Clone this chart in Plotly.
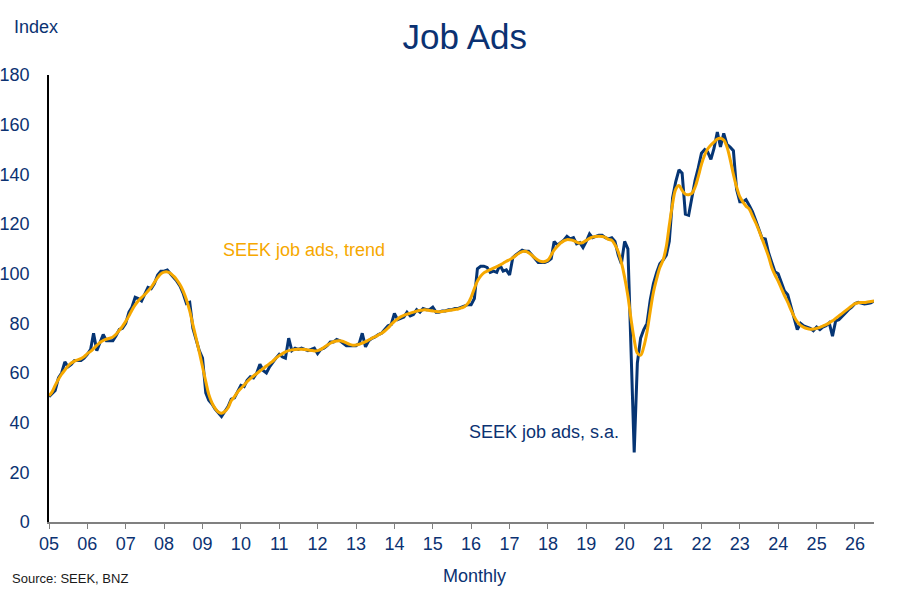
import pandas as pd
import plotly.graph_objects as go

# ---- data (monthly, Jan 2005 - Jul 2026) ----
start_month = "2005-01-01"

trend = [
    # 2005
    50.8, 52.5, 55.0, 57.5, 59.5, 61.2, 62.8, 64.0, 64.8, 65.3, 65.8, 66.6,
    # 2006
    67.8, 68.7, 69.8, 71.1, 72.3, 73.1, 73.6, 74.0, 74.5, 75.6, 77.2, 78.8,
    # 2007
    80.8, 83.0, 85.3, 87.4, 89.1, 90.4, 91.6, 93.0, 94.6, 96.5, 98.4, 99.9,
    # 2008
    100.6, 100.7, 100.2, 99.0, 97.5, 95.5, 93.0, 89.5, 85.0, 79.5, 74.0, 68.5,
    # 2009
    62.5, 56.5, 51.5, 48.0, 45.8, 44.3, 43.8, 44.5, 46.0, 48.8, 50.5, 52.3,
    # 2010
    53.8, 55.2, 56.5, 57.7, 58.8, 59.8, 60.8, 61.8, 62.8, 63.8, 64.8, 66.0,
    # 2011
    67.0, 67.8, 68.5, 69.0, 69.3, 69.5, 69.6, 69.6, 69.5, 69.3, 69.1, 68.9,
    # 2012
    69.0, 69.5, 70.3, 71.2, 72.0, 72.6, 72.9, 73.0, 72.7, 72.1, 71.5, 71.2,
    # 2013
    71.3, 71.6, 72.0, 72.6, 73.3, 74.0, 74.6, 75.3, 76.0, 76.9, 78.1, 79.5,
    # 2014
    80.8, 81.8, 82.6, 83.2, 83.7, 84.1, 84.5, 84.9, 85.2, 85.4, 85.4, 85.2,
    # 2015
    85.0, 84.8, 84.7, 84.8, 85.0, 85.2, 85.4, 85.6, 85.8, 86.2, 86.8, 88.0,
    # 2016
    90.5, 94.0, 97.0, 99.0, 100.3, 101.0, 101.6, 102.2, 102.8, 103.5, 104.2, 105.0,
    # 2017
    105.6, 106.4, 107.3, 108.2, 108.9, 109.0, 108.4, 107.4, 106.3, 105.4, 104.9, 104.9,
    # 2018
    105.5, 107.5, 109.5, 111.0, 112.3, 113.2, 113.7, 113.6, 113.3, 112.7, 112.3, 112.6,
    # 2019
    113.4, 114.2, 114.7, 115.0, 115.1, 115.0, 114.6, 113.8, 113.4, 111.6, 108.8, 104.5,
    # 2020
    98.5, 91.0, 82.0, 73.5, 68.0, 67.2, 70.5, 76.5, 85.0, 92.5, 98.0, 102.5,
    # 2021
    105.5, 111.0, 119.5, 128.0, 134.0, 135.5, 133.5, 132.0, 131.8, 132.3, 134.8, 139.0,
    # 2022
    144.0, 147.8, 150.2, 151.8, 153.0, 154.2, 154.5, 153.8, 151.0, 146.0, 140.0, 135.0,
    # 2023
    131.0, 128.8, 127.2, 126.0, 123.3, 120.5, 117.5, 114.0, 110.5, 107.0, 102.5, 99.5,
    # 2024
    97.0, 94.0, 91.2, 88.5, 85.5, 82.7, 80.6, 79.2, 78.4, 77.9, 77.6, 77.7,
    # 2025
    78.0, 78.4, 78.9, 79.5, 80.2, 81.0, 82.0, 83.0, 84.0, 85.0, 86.0, 87.0,
    # 2026
    87.9, 88.3, 88.4, 88.4, 88.6, 88.8, 89.0,
]

seasonally_adjusted = [
    # 2005
    50.5, 52.0, 53.0, 58.0, 60.0, 64.5, 62.5, 63.5, 65.0, 65.0, 65.0, 66.0,
    # 2006
    67.5, 69.5, 76.0, 69.0, 72.5, 75.5, 73.0, 73.0, 73.0, 75.0, 77.5, 78.0,
    # 2007
    80.0, 84.5, 86.5, 90.5, 90.0, 89.0, 91.5, 94.5, 94.0, 96.0, 99.5, 101.0,
    # 2008
    101.0, 101.5, 100.0, 98.5, 97.0, 95.0, 92.0, 88.0, 88.5, 78.0, 73.0, 69.0,
    # 2009
    66.0, 52.0, 49.0, 47.5, 45.5, 44.0, 42.5, 44.5, 46.5, 49.5, 50.0, 52.5,
    # 2010
    55.0, 54.5, 57.0, 58.5, 58.0, 60.0, 63.5, 61.0, 60.0, 62.5, 64.5, 66.0,
    # 2011
    67.5, 66.5, 66.0, 74.0, 69.0, 70.0, 69.5, 70.0, 69.5, 69.0, 69.5, 70.0,
    # 2012
    67.8, 69.5, 70.0, 71.0, 72.5, 72.5, 73.5, 73.0, 72.0, 71.0, 71.0, 71.0,
    # 2013
    71.0, 72.0, 76.0, 70.5, 73.0, 74.0, 74.5, 75.5, 76.0, 77.5, 79.0, 79.5,
    # 2014
    84.0, 81.5, 82.0, 82.5, 84.5, 83.0, 83.5, 85.5, 84.5, 86.0, 85.5, 85.5,
    # 2015
    86.5, 84.5, 84.5, 85.0, 85.0, 85.5, 85.5, 86.0, 86.0, 86.5, 87.0, 87.5,
    # 2016
    87.5, 90.0, 102.0, 103.0, 103.0, 102.5, 100.5, 101.0, 100.5, 103.5, 101.0, 101.5,
    # 2017
    99.5, 106.5, 107.5, 108.5, 109.5, 109.0, 109.0, 107.5, 106.0, 104.5, 104.5, 104.5,
    # 2018
    105.0, 106.0, 113.0, 111.5, 112.5, 113.5, 115.0, 114.0, 114.5, 112.0, 112.5, 110.5,
    # 2019
    113.0, 116.0, 114.5, 115.0, 115.5, 115.5, 114.5, 114.0, 114.5, 113.0, 107.5, 104.0,
    # 2020
    113.0, 110.0, 70.0, 28.0, 64.0, 74.0, 77.5, 80.0, 89.5, 96.0, 100.5, 104.0,
    # 2021
    105.5, 107.5, 113.0, 130.5, 137.0, 141.8, 140.5, 124.0, 123.5, 131.0, 137.5, 142.5,
    # 2022
    148.5, 150.0, 149.0, 146.0, 150.5, 157.0, 151.0, 156.5, 152.0, 151.0, 149.5, 134.0,
    # 2023
    129.0, 129.0, 129.8, 127.5, 125.0, 121.5, 117.5, 114.3, 114.0, 108.5, 104.5, 100.8,
    # 2024
    100.0, 96.0, 93.0, 91.5, 86.5, 82.0, 77.5, 80.0, 79.0, 78.5, 78.0, 77.0,
    # 2025
    78.5, 77.5, 78.5, 79.0, 80.2, 74.8, 81.0, 81.5, 83.0, 84.0, 85.5, 86.5,
    # 2026
    88.0, 88.5, 88.2, 87.8, 88.0, 88.3, 89.0,
]

tick_years = list(range(2005, 2027))
tick_labels = [f"{y % 100:02d}" for y in tick_years]
y_ticks = list(range(0, 181, 20))

title_text = "Job Ads"
y_unit = "Index"
x_label = "Monthly"
source_text = "Source: SEEK, BNZ"
trend_label = "SEEK job ads, trend"
sa_label = "SEEK job ads, s.a."

# ---- styling ----
NAVY = "#0b3272"
LINE_NAVY = "#063574"
ORANGE = "#f6a800"
FONT = "Liberation Sans, Arial, sans-serif"
W, H = 915, 597

dates = pd.date_range(start_month, periods=len(trend), freq="MS")

fig = go.Figure()
fig.add_trace(go.Scatter(
    x=dates, y=seasonally_adjusted, mode="lines",
    line=dict(color=LINE_NAVY, width=3), name=sa_label,
))
fig.add_trace(go.Scatter(
    x=dates, y=trend, mode="lines", line_shape="spline",
    line=dict(color=ORANGE, width=3), name=trend_label,
))

fig.update_layout(
    width=W, height=H,
    margin=dict(l=49, r=41, t=75, b=75),
    paper_bgcolor="white", plot_bgcolor="white",
    showlegend=False,
    font=dict(family=FONT, color=NAVY, size=18),
    title=dict(text=title_text, x=0.504, xanchor="center", xref="paper",
               y=1 - 37 / H, yref="container", yanchor="middle",
               automargin=False,
               font=dict(size=35, color=NAVY, family=FONT)),
)

fig.update_xaxes(
    type="date", automargin=False,
    range=[dates[0], pd.Timestamp("2026-07-01")],
    tickvals=[pd.Timestamp(f"{y}-01-01") for y in tick_years],
    ticktext=tick_labels,
    ticks="outside", ticklen=5, tickcolor="#808080", tickwidth=1,
    showline=True, linecolor="#808080", linewidth=1.5,
    showgrid=False, zeroline=False,
    tickfont=dict(size=18, color=NAVY, family=FONT),
)
fig.update_yaxes(
    range=[0, 180], automargin=False,
    tickvals=y_ticks,
    ticks="", ticklabelstandoff=14,
    showline=True, linecolor="black", linewidth=1.5,
    showgrid=False, zeroline=False,
    tickfont=dict(size=18, color=NAVY, family=FONT),
)

annots = [
    dict(text=trend_label, x=0.3087, y=0.6085, xanchor="center", yanchor="middle",
         font=dict(size=18, color=ORANGE, family=FONT)),
    dict(text=sa_label, x=0.5996, y=0.2013, xanchor="center", yanchor="middle",
         font=dict(size=18, color=NAVY, family=FONT)),
    dict(text=y_unit, x=-0.0452, y=1.107, xanchor="left", yanchor="middle",
         font=dict(size=18, color=NAVY, family=FONT)),
    dict(text=x_label, x=0.516, y=-0.1208, xanchor="center", yanchor="middle",
         font=dict(size=18, color=NAVY, family=FONT)),
    dict(text=source_text, x=-0.0476, y=-0.1253, xanchor="left", yanchor="middle",
         font=dict(size=13, color="#1a1a1a", family=FONT)),
]
for a in annots:
    fig.add_annotation(xref="paper", yref="paper", showarrow=False, **a)

# remove the browser's default 8px body margin so the figure sits at the page origin
fig.write_html(
    "out.html",
    config={"displayModeBar": False},
    post_script="document.body.style.margin='0';document.body.style.overflow='hidden';",
)
